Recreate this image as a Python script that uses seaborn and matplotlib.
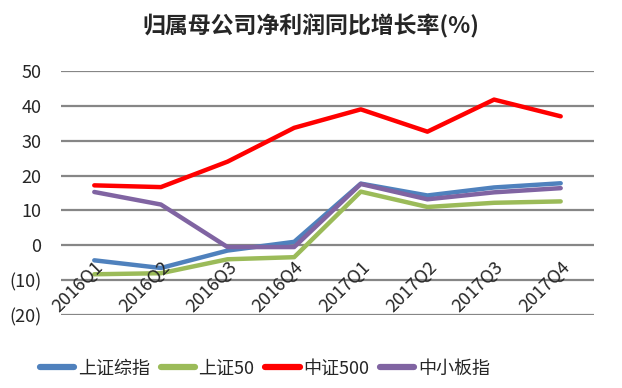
import matplotlib
matplotlib.use("Agg")
import matplotlib.pyplot as plt
import seaborn as sns
import pandas as pd

quarters = ["2016Q1", "2016Q2", "2016Q3", "2016Q4", "2017Q1", "2017Q2", "2017Q3", "2017Q4"]
sh_composite = [-4.3, -6.5, -1.5, 1.0, 17.7, 14.3, 16.6, 17.8]
sh50 = [-8.3, -8.0, -4.0, -3.4, 15.4, 11.0, 12.2, 12.6]
csi500 = [17.2, 16.7, 24.0, 33.7, 39.0, 32.6, 41.8, 37.0]
sme = [15.3, 11.7, -0.5, -0.5, 17.6, 13.2, 15.2, 16.4]
series_names = ["上证综指", "上证50", "中证500", "中小板指"]
colors = ["#4F81BD", "#9BBB59", "#FF0000", "#8064A2"]
yticks = [-20, -10, 0, 10, 20, 30, 40, 50]
title = "归属母公司净利润同比增长率(%)"

sns.set_style("white")
plt.rcParams['font.family'] = ['Noto Sans CJK SC', 'DejaVu Sans']

rows = []
for name, vals in zip(series_names, [sh_composite, sh50, csi500, sme]):
    for i, (q, v) in enumerate(zip(quarters, vals)):
        rows.append({"idx": i, "quarter": q, "value": v, "series": name})
df = pd.DataFrame(rows)

fig = plt.figure(figsize=(6.22, 3.88), dpi=100)
ax = fig.add_axes([0.098, 0.188, 0.857, 0.629])

for y in yticks:
    ax.axhline(y, color="#868686", lw=1.6, zorder=0)

sns.lineplot(data=df, x="idx", y="value", hue="series", hue_order=series_names,
             palette=colors, linewidth=3.2, ax=ax, legend=True, zorder=3)

ax.spines['bottom'].set_position(('data', 0))
for s in ax.spines.values():
    s.set_visible(False)
ax.set_xlim(-0.5, len(quarters) - 0.5)
ax.set_ylim(-20, 50)
ax.set_yticks(yticks)
ax.set_yticklabels([f"({abs(v)})" if v < 0 else str(v) for v in yticks], fontsize=13)
ax.set_xticks(range(len(quarters)))
ax.set_xticklabels(quarters, rotation=45, ha="right", rotation_mode="anchor", fontsize=13)
ax.tick_params(axis="both", length=0)
ax.tick_params(axis="x", pad=9)
ax.tick_params(axis="y", pad=14)
ax.xaxis.set_zorder(5)
ax.set_xlabel("")
ax.set_ylabel("")

fig.text(0.5, 0.933, title, ha="center", va="center", fontsize=16.5, fontweight="bold")

handles, labels = ax.get_legend_handles_labels()
for h in handles:
    h.set_linewidth(4.5)
    h.set_solid_capstyle("round")
ax.legend(handles, labels, loc="center", bbox_to_anchor=(0.426, 0.05), bbox_transform=fig.transFigure,
          ncol=4, frameon=False, fontsize=13, handlelength=1.9, handletextpad=0.2, columnspacing=0.6)

fig.savefig("out.png", dpi=100)
